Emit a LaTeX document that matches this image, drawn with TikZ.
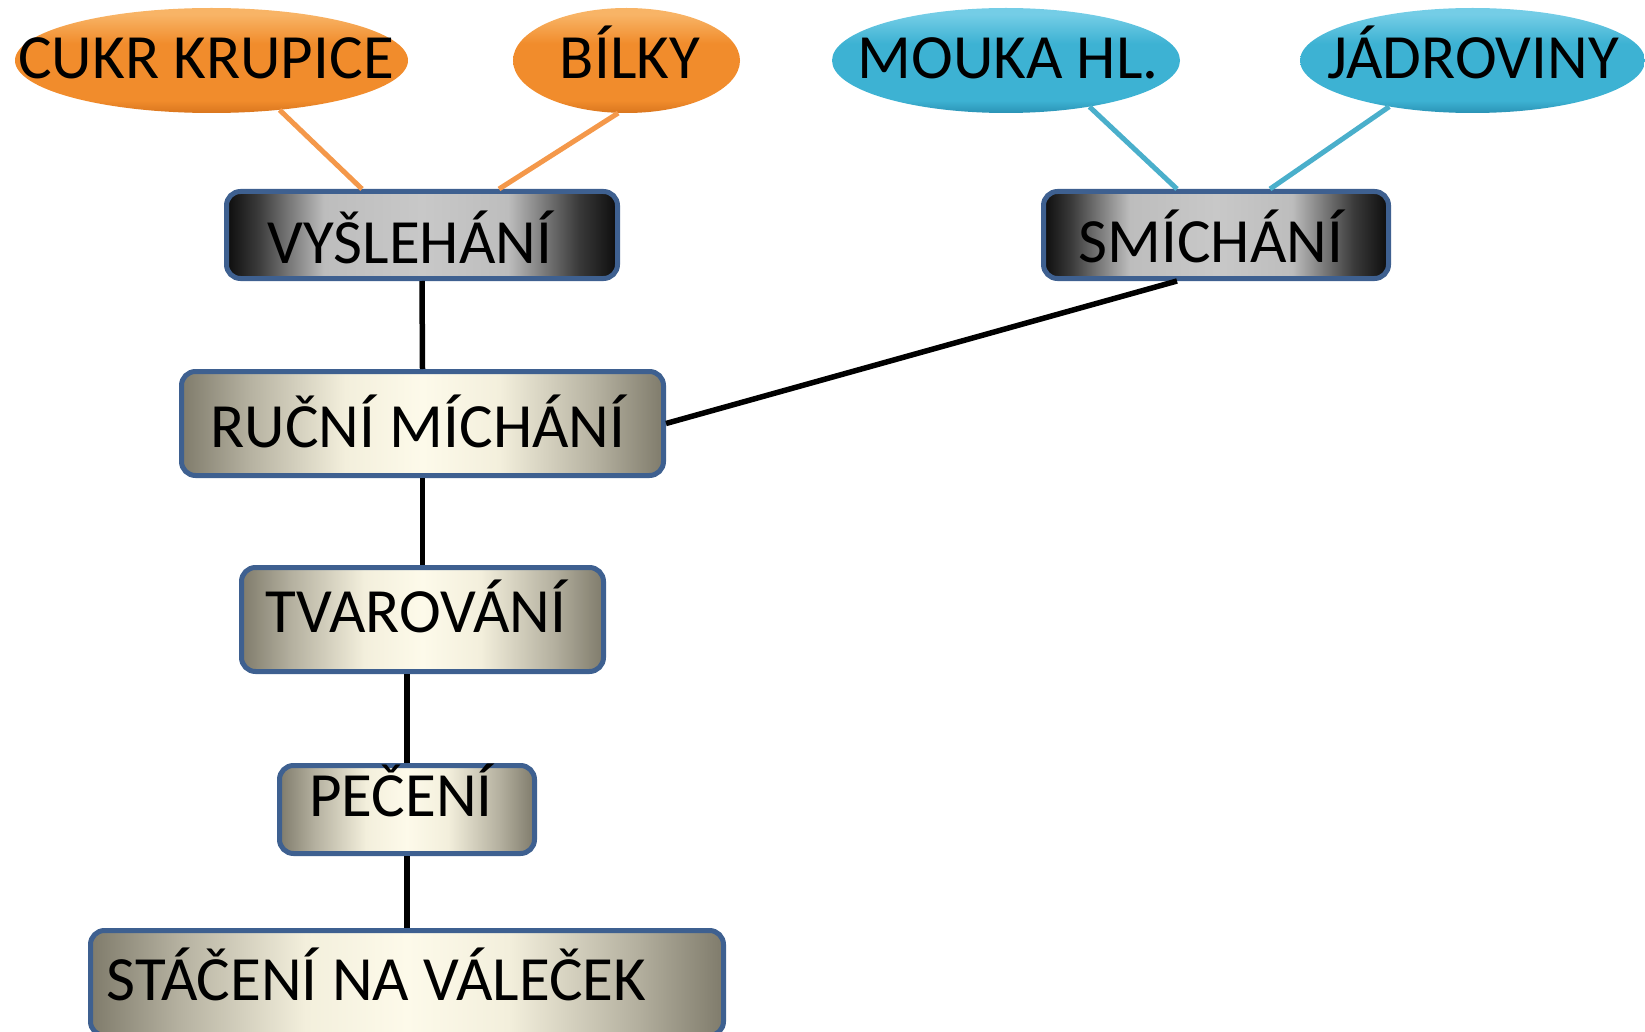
\documentclass[tikz,border=0pt]{standalone}
\usepackage{fontspec}
\setmainfont{Carlito}
\usetikzlibrary{shapes.geometric,calc}

\definecolor{borderblue}{HTML}{3E6090}
\definecolor{orD}{HTML}{D9761E}
\definecolor{orM}{HTML}{F18C2C}
\definecolor{orL}{HTML}{F8B466}
\definecolor{blD}{HTML}{2A93B5}
\definecolor{blM}{HTML}{3DB2D3}
\definecolor{blL}{HTML}{74CDE6}
\definecolor{orline}{HTML}{F4984A}
\definecolor{blline}{HTML}{4AAFCB}
\definecolor{dk0}{HTML}{0C0C0C}
\definecolor{dk1}{HTML}{3A3A3A}
\definecolor{dk2}{HTML}{BDBDBD}
\definecolor{dk3}{HTML}{C8C8C8}
\definecolor{bg0}{HTML}{7F7B6B}
\definecolor{bg1}{HTML}{B5B1A0}
\definecolor{bg2}{HTML}{F3EFDC}
\definecolor{bg3}{HTML}{FDFAEA}

\pgfdeclareverticalshading{orangegloss}{100bp}{color(0bp)=(orD); color(25bp)=(orD); color(31bp)=(orM); color(58bp)=(orM); color(72bp)=(orL); color(75bp)=(orL); color(100bp)=(orL)}
\pgfdeclareverticalshading{bluegloss}{100bp}{color(0bp)=(blD); color(25bp)=(blD); color(31bp)=(blM); color(58bp)=(blM); color(72bp)=(blL); color(75bp)=(blL); color(100bp)=(blL)}
\pgfdeclarehorizontalshading{darkbar}{100bp}{color(0bp)=(dk0); color(25bp)=(dk0); color(29bp)=(dk1); color(37.5bp)=(dk2); color(50bp)=(dk3); color(61bp)=(dk2); color(70bp)=(dk1); color(75bp)=(dk0); color(100bp)=(dk0)}
\pgfdeclarehorizontalshading{beigebar}{100bp}{color(0bp)=(bg0); color(25bp)=(bg0); color(32bp)=(bg1); color(42bp)=(bg2); color(50bp)=(bg3); color(58bp)=(bg2); color(68bp)=(bg1); color(75bp)=(bg0); color(100bp)=(bg0)}

\newcommand\offtext[2]{\makebox[0pt]{\kern#1\relax #2}}

\tikzset{
  ingr/.style={ellipse, minimum height=105pt, inner sep=0pt, draw=none,
    font=\fontsize{63}{70}\selectfont, text height=37pt, text depth=0pt},
  ingrO/.style={ingr, shade, shading=orangegloss},
  ingrB/.style={ingr, shade, shading=bluegloss},
  procbox/.style={rectangle, rounded corners=14pt, draw=borderblue, line width=5pt,
    inner sep=0pt, font=\fontsize{63}{70}\selectfont, text depth=0pt},
  darkbox/.style={procbox, shade, shading=darkbar},
  lightbox/.style={procbox, shade, shading=beigebar},
  orlink/.style={draw=orline, line width=5pt},
  bllink/.style={draw=blline, line width=5pt},
  blacklink/.style={draw=black, line width=5.5pt},
}

\begin{document}
\begin{tikzpicture}[x=1pt,y=-1pt]
\useasboundingbox (0,0) rectangle (1645,1032);

% ingredients
\node[ingrO, minimum width=393pt] (cukr) at (211.5,60.5) {\offtext{-11pt}{CUKR KRUPICE}};
\node[ingrO, minimum width=227pt] (bilky) at (626.5,60.5) {\offtext{7pt}{BÍLKY}};
\node[ingrB, minimum width=348pt] (mouka) at (1006,60.5) {\offtext{4pt}{MOUKA HL.}};
\node[ingrB, minimum width=345pt] (jadro) at (1472.5,60.5) {\offtext{1pt}{JÁDROVINY}};

% process steps
\node[darkbox, minimum width=391pt, minimum height=87pt, text height=56pt] (vys) at (422,235) {\offtext{-24pt}{VYŠLEHÁNÍ}};
\node[darkbox, minimum width=345pt, minimum height=87pt, text height=54pt] (smi) at (1216,235) {\offtext{-10pt}{SMÍCHÁNÍ}};
\node[lightbox, minimum width=482pt, minimum height=104pt, text height=47pt] (ruc) at (422.5,423.5) {\offtext{-9pt}{RUČNÍ MÍCHÁNÍ}};
\node[lightbox, minimum width=362pt, minimum height=104pt, text height=25pt] (tvar) at (422.5,619.5) {\offtext{-13pt}{TVAROVÁNÍ}};
\node[lightbox, minimum width=255pt, minimum height=88pt, text height=13pt] (pec) at (407,809.5) {\offtext{-12pt}{PEČENÍ}};
\node[lightbox, minimum width=633pt, minimum height=105pt, text height=34pt] (stac) at (407,983) {\offtext{-61pt}{STÁČENÍ NA VÁLEČEK}};

% ingredient links
\draw[orlink] (cukr.-36.6) -- ([xshift=-60pt]vys.north);
\draw[orlink] (bilky.-99.2) -- ([xshift=77pt]vys.north);
\draw[bllink] (mouka.-29.4) -- ([xshift=-39pt]smi.north);
\draw[bllink] (jadro.-151.2) -- ([xshift=54pt]smi.north);

% process links
\draw[blacklink] (vys.south) -- (ruc.north);
\draw[blacklink] ([xshift=-39pt]smi.south) -- (ruc.east);
\draw[blacklink] (ruc.south) -- (ruc.south |- tvar.north);
\draw[blacklink] (pec.north |- tvar.south) -- (pec.north);
\draw[blacklink] (pec.south) -- (stac.north);
\end{tikzpicture}
\end{document}
